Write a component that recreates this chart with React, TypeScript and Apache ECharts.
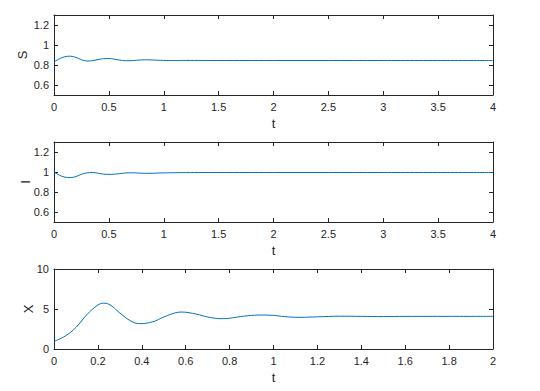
import React, { useEffect, useRef } from "react";
import * as echarts from "echarts";

const sT = [0, 0.05, 0.1, 0.15, 0.2, 0.25, 0.3, 0.35, 0.4, 0.45, 0.5, 0.55, 0.6, 0.65, 0.7, 0.75, 0.8, 0.85, 0.9, 1.0, 1.1, 1.2, 1.5, 2, 3, 4];
const sVals = [0.83, 0.862, 0.883, 0.888, 0.876, 0.853, 0.840, 0.843, 0.854, 0.863, 0.865, 0.858, 0.849, 0.843, 0.843, 0.847, 0.851, 0.852, 0.850, 0.846, 0.845, 0.846, 0.845, 0.845, 0.845, 0.845];

const iT = [0, 0.05, 0.1, 0.15, 0.2, 0.25, 0.3, 0.35, 0.4, 0.45, 0.5, 0.55, 0.6, 0.65, 0.7, 0.75, 0.8, 0.85, 0.9, 1.0, 1.1, 1.2, 1.5, 2, 3, 4];
const iVals = [1.0, 0.968, 0.948, 0.944, 0.955, 0.977, 0.992, 0.995, 0.988, 0.979, 0.976, 0.978, 0.984, 0.99, 0.992, 0.991, 0.988, 0.987, 0.988, 0.991, 0.993, 0.994, 0.995, 0.995, 0.995, 0.995];

const xT = [0, 0.05, 0.1, 0.15, 0.2, 0.225, 0.25, 0.3, 0.35, 0.39, 0.45, 0.5, 0.55, 0.58, 0.65, 0.7, 0.76, 0.8, 0.85, 0.9, 0.95, 1.0, 1.05, 1.12, 1.2, 1.3, 1.4, 1.5, 1.6, 1.8, 2.0];
const xVals = [0.95, 1.6, 2.7, 4.3, 5.5, 5.72, 5.6, 4.5, 3.5, 3.17, 3.4, 4.0, 4.5, 4.62, 4.35, 4.0, 3.79, 3.85, 4.05, 4.2, 4.25, 4.2, 4.05, 3.96, 4.02, 4.1, 4.08, 4.05, 4.08, 4.08, 4.08];

const siTicks = [0.6, 0.8, 1, 1.2];
const xTicks = [0, 5, 10];

const FONT = "Liberation Sans";
const AX = "#262626";
const LINE = "#0072BD";

export default function App() {
  const ref = useRef<HTMLDivElement>(null);
  useEffect(() => {
    const chart = echarts.init(ref.current!, null, { renderer: "svg" });
    const grids = [
      { left: 54, top: 15, width: 439, height: 80 },
      { left: 54, top: 142, width: 439, height: 80 },
      { left: 54, top: 269, width: 439, height: 80 },
    ];
    const panels = [
      { name: "S", t: sT, v: sVals, xmax: 4, xint: 0.5, ymin: 0.5, ymax: 1.3, yticks: siTicks, nameGap: 25 },
      { name: "I", t: iT, v: iVals, xmax: 4, xint: 0.5, ymin: 0.5, ymax: 1.3, yticks: siTicks, nameGap: 22 },
      { name: "X", t: xT, v: xVals, xmax: 2, xint: 0.2, ymin: 0, ymax: 10, yticks: xTicks, nameGap: 19 },
    ];
    const xAxis: any[] = [];
    const yAxis: any[] = [];
    const series: any[] = [];
    const lineStyle = { color: AX, width: 1 };
    panels.forEach((p, i) => {
      const base = {
        gridIndex: i,
        type: "value",
        min: 0,
        max: p.xmax,
        interval: p.xint,
        splitLine: { show: false },
        axisLine: { show: true, lineStyle, onZero: false },
        axisTick: { show: true, inside: true, length: 4, lineStyle },
      };
      xAxis.push({
        ...base,
        position: "bottom",
        name: "t",
        nameLocation: "middle",
        nameGap: 22,
        nameMoveOverlap: false,
        nameTextStyle: { fontFamily: FONT, fontSize: 13, color: AX },
        axisLabel: { fontFamily: FONT, fontSize: 11, color: AX, margin: 6 },
      });
      xAxis.push({ ...base, position: "top", axisLabel: { show: false } });
      const ybase = {
        gridIndex: i,
        type: "value",
        min: p.ymin,
        max: p.ymax,
        splitLine: { show: false },
        axisLine: { show: true, lineStyle, onZero: false },
        axisTick: { show: true, inside: true, length: 4, lineStyle, customValues: p.yticks },
      };
      yAxis.push({
        ...ybase,
        position: "left",
        name: p.name,
        nameLocation: "middle",
        nameRotate: 90,
        nameGap: p.nameGap,
        nameMoveOverlap: false,
        nameTextStyle: { fontFamily: FONT, fontSize: 13, color: AX },
        axisLabel: { fontFamily: FONT, fontSize: 11, color: AX, margin: 5, customValues: p.yticks },
      });
      yAxis.push({ ...ybase, position: "right", axisLabel: { show: false } });
      series.push({
        type: "line",
        xAxisIndex: i * 2,
        yAxisIndex: i * 2,
        data: p.t.map((t, k) => [t, p.v[k]]),
        showSymbol: false,
        smooth: 0.4,
        lineStyle: { color: LINE, width: 1 },
      });
    });
    chart.setOption({
      animation: false,
      backgroundColor: "#fff",
      grid: grids,
      xAxis,
      yAxis,
      series,
    });
    return () => chart.dispose();
  }, []);
  return <div ref={ref} style={{ position: "absolute", left: 0, top: 0, width: 540, height: 391 }} />;
}
